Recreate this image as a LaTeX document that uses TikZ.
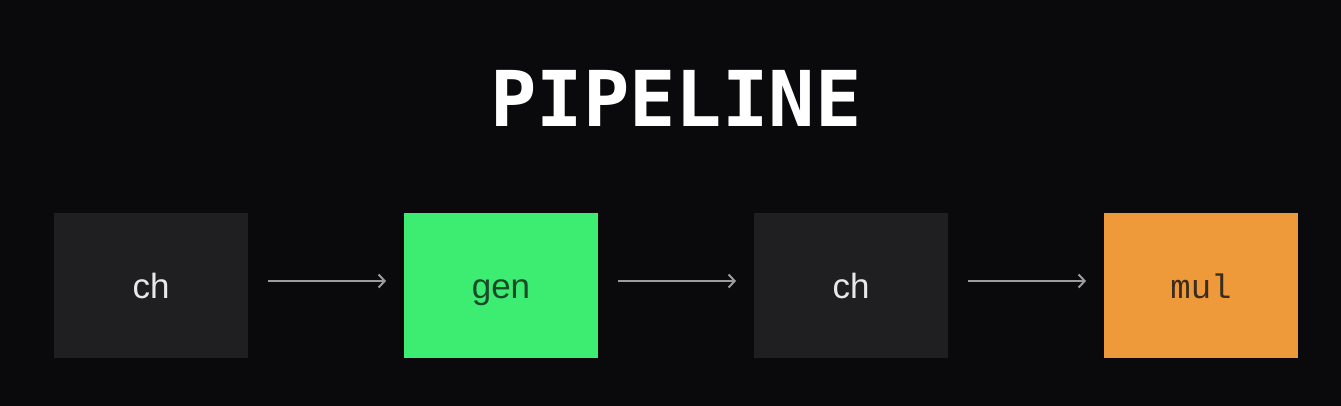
\documentclass[tikz,border=0pt]{standalone}
\usepackage{fontspec}
\setmainfont{Liberation Sans}
\newfontfamily\titlefont{DejaVu Sans Mono}
\newfontfamily\monofont{Liberation Mono}
\usetikzlibrary{arrows.meta}
\definecolor{bgcol}{HTML}{0A0A0C}
\definecolor{darkbox}{HTML}{1F1F21}
\definecolor{greenbox}{HTML}{3DED72}
\definecolor{orangebox}{HTML}{EE9A3A}
\definecolor{lighttext}{HTML}{E8E8E8}
\definecolor{greentext}{HTML}{1B4A2A}
\definecolor{orangetext}{HTML}{3A2C1E}
\definecolor{arrowcol}{HTML}{9C9C9C}
\tikzset{
  stagebox/.style={minimum width=194pt, minimum height=145pt, inner sep=0pt, outer sep=0pt, text height=27pt, text depth=0pt},
  darkstage/.style={stagebox, fill=darkbox, text=lighttext, font=\fontsize{35}{35}\selectfont},
  greenstage/.style={stagebox, fill=greenbox, text=greentext, font=\fontsize{35}{35}\selectfont},
  orangestage/.style={stagebox, fill=orangebox, text=orangetext, font=\monofont\fontsize{34}{34}\selectfont},
  flow/.style={draw=arrowcol, line width=2pt, -{Straight Barb[length=6pt,width=13pt,line width=2pt]}, shorten <=20pt, shorten >=18pt},
}
\begin{document}
\begin{tikzpicture}[x=1pt,y=1pt]
\fill[bgcol] (0,0) rectangle (1341,406);
\useasboundingbox (0,0) rectangle (1341,406);
\node[anchor=base, text=white, font=\titlefont\bfseries\fontsize{77}{77}\selectfont, inner sep=0pt] (title) at (676,279) {PIPELINE};
\node[darkstage] (ch1) at (151,120.5) {ch};
\node[greenstage] (gen) at (501,120.5) {gen};
\node[darkstage] (ch2) at (851,120.5) {ch};
\node[orangestage] (mul) at (1201,120.5) {mul};
\draw[flow] ([yshift=4.5pt]ch1.east) -- ([yshift=4.5pt]gen.west);
\draw[flow] ([yshift=4.5pt]gen.east) -- ([yshift=4.5pt]ch2.west);
\draw[flow] ([yshift=4.5pt]ch2.east) -- ([yshift=4.5pt]mul.west);
\end{tikzpicture}
\end{document}
